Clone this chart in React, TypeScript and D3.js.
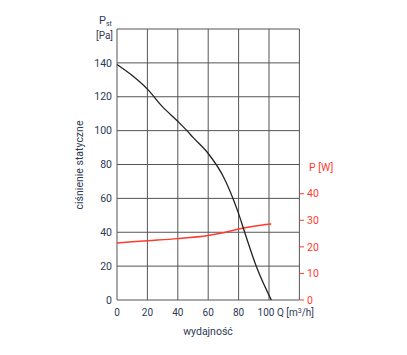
import React from "react";
import * as d3 from "d3";

const xTicks = [0, 20, 40, 60, 80, 100];
const yTicks = [0, 20, 40, 60, 80, 100, 120, 140];
const wTicks = [0, 10, 20, 30, 40];
const gridX = [0, 20, 40, 60, 80, 100, 120];
const gridY = [0, 20, 40, 60, 80, 100, 120, 140, 160];

const pressureQ = [0, 10, 20, 30, 40, 46, 50, 60, 70, 76.5, 80, 84, 92, 101.5];
const pressureP = [139, 132.5, 124.5, 114, 105.5, 100, 96, 86.5, 72.8, 59.5, 51, 40, 19, 0];

const powerQ = [0, 20, 40, 60, 70, 80, 90, 101.5];
const powerW = [21.5, 22.3, 23.1, 24.3, 25.3, 26.7, 27.8, 28.6];

export default function App() {
  const left = 117, right = 299.4, top = 29, bottom = 300;
  const x = d3.scaleLinear().domain([0, 120]).range([left, right]);
  const y = d3.scaleLinear().domain([0, 160]).range([bottom, top]);
  const yw = d3.scaleLinear().domain([0, 102]).range([bottom, top]);

  const lineP = d3
    .line<number>()
    .x((_, i) => x(pressureQ[i]))
    .y((d) => y(d))
    .curve(d3.curveMonotoneX);
  const lineW = d3
    .line<number>()
    .x((_, i) => x(powerQ[i]))
    .y((d) => yw(d))
    .curve(d3.curveMonotoneX);

  const font = "Roboto, 'DejaVu Sans', sans-serif";
  const navy = "#2f3a55";
  const red = "#ff3b2f";
  const grid = "#555";

  return (
    <svg
      width={407}
      height={355}
      style={{ position: "absolute", left: 0, top: 0, background: "#fff" }}
      fontFamily={font}
    >
      {gridX.map((v) => (
        <line key={"gx" + v} x1={x(v)} x2={x(v)} y1={top} y2={bottom} stroke={grid} strokeWidth={1} />
      ))}
      {gridY.map((v) => (
        <line key={"gy" + v} x1={left} x2={right} y1={y(v)} y2={y(v)} stroke={grid} strokeWidth={1} />
      ))}

      <path d={lineW(powerW) || ""} fill="none" stroke={red} strokeWidth={1.5} />
      <path d={lineP(pressureP) || ""} fill="none" stroke="#222" strokeWidth={1.3} />

      {yTicks.map((v) => (
        <text key={"yt" + v} x={112} y={y(v)} dy="0.35em" textAnchor="end" fontSize={10.5} fill={navy}>
          {v}
        </text>
      ))}
      {xTicks.map((v) => (
        <text
          key={"xt" + v}
          x={v === 100 ? x(v) - 3 : x(v)}
          y={316}
          textAnchor="middle"
          fontSize={10}
          fill={navy}
        >
          {v}
        </text>
      ))}
      <text x={277} y={316} fontSize={10} fill={navy}>
        Q [m<tspan dy={-3} fontSize={7}>3</tspan>
        <tspan dy={3}>/h]</tspan>
      </text>
      <text x={208} y={335} textAnchor="middle" fontSize={10.5} fill={navy}>
        wydajność
      </text>
      <text
        transform={`translate(83,165) rotate(-90)`}
        textAnchor="middle"
        fontSize={10.5}
        fill={navy}
      >
        ciśnienie statyczne
      </text>
      <text x={99} y={24} fontSize={11} fill={navy}>
        P<tspan dy={2} fontSize={7}>st</tspan>
      </text>
      <text x={96} y={39} fontSize={10} fill={navy}>
        [Pa]
      </text>

      {wTicks.map((v) => (
        <g key={"wt" + v}>
          <line x1={300} x2={304} y1={yw(v)} y2={yw(v)} stroke={red} strokeWidth={1} />
          <text x={307} y={yw(v)} dy="0.35em" fontSize={10.5} fill={red}>
            {v}
          </text>
        </g>
      ))}
      <text x={309} y={171} fontSize={10.5} fill={red}>
        P [W]
      </text>
    </svg>
  );
}
